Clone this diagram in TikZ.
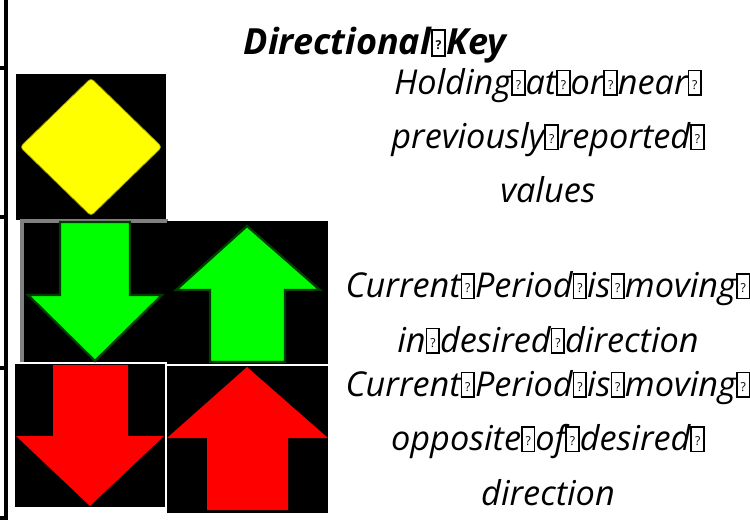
\documentclass[tikz,border=0pt]{standalone}
\usepackage{fontspec}
\setmainfont{Open Sans}
\usepackage{tikz}
\usetikzlibrary{positioning}
\definecolor{keyyellow}{RGB}{255, 255, 0}
\definecolor{keygreen}{RGB}{0, 255, 0}
\definecolor{keydkgreen}{RGB}{0, 60, 0}
\definecolor{keyred}{RGB}{255, 0, 0}
\definecolor{keygray}{RGB}{128, 128, 128}

% empty-glyph box printed where a space should be
\newcommand{\nog}{{\setlength{\fboxsep}{0pt}\setlength{\fboxrule}{0.05em}%
  \fbox{\makebox[0.32em][c]{\rule{0pt}{0.66em}%
  \raisebox{0.14em}{\fontsize{7}{7}\selectfont\upshape ?}}}}}

\begin{document}
\begin{tikzpicture}[
    x=0.02cm, y=-0.02cm,
    tile/.style={fill=black},
    grnarrow/.style={fill=keygreen, draw=keydkgreen, line width=1.3pt,
                     line join=miter},
    redarrow/.style={fill=keyred},
    keytitle/.style={anchor=base, font=\fontsize{20.5}{24}\selectfont\bfseries\itshape},
    keytext/.style={anchor=base, align=center,
                    font=\fontsize{19.5}{31}\selectfont\itshape},
    rule/.style={line width=2.2pt},
  ]
    \useasboundingbox (0,0) rectangle (750,520);

    % table border on the left
    \draw[rule] (6,0) -- (6,520);
    \foreach \yy in {68, 217, 368, 518}
      \draw[rule] (0,\yy) -- (7,\yy);

    % holding: yellow diamond
    \fill[tile] (16,74) rectangle (166,220);
    \draw[fill=keyyellow, draw=keyyellow!55!black, rounded corners=2pt]
      (91,78) -- (162,147) -- (91,216) -- (20,147) -- cycle;

    % desired direction: green arrows
    \fill[tile] (24,222) rectangle (168,362);
    \draw[keygray, line width=2pt] (22,362) -- (22,221) -- (168,221);
    \draw[grnarrow] (60,222) -- (130,222) -- (130,295) -- (162,295)
      -- (95,361) -- (28,295) -- (60,295) -- cycle;
    \fill[tile] (167,221) rectangle (328,364);
    \draw[grnarrow] (247,226) -- (320,290) -- (285,290) -- (285,362)
      -- (210,362) -- (210,290) -- (176,290) -- cycle;

    % opposite direction: red arrows
    \fill[tile] (15,364) rectangle (165,507);
    \fill[redarrow] (53,365) -- (128,365) -- (128,436) -- (164,436)
      -- (90,506) -- (16,436) -- (53,436) -- cycle;
    \fill[tile] (167,366) rectangle (328,513);
    \fill[redarrow] (247,367) -- (328,438) -- (288,438) -- (288,510)
      -- (207,510) -- (207,438) -- (167,438) -- cycle;

    % headings and explanations (base = last line)
    \node[keytitle] (title) at (375,55) {Directional\nog Key};
    \node[keytext] (hold) at (548,203)
      {Holding\nog at\nog or\nog near\nog\\previously\nog reported\nog\\values};
    \node[keytext] (good) at (548,352)
      {Current\nog Period\nog is\nog moving\nog\\in\nog desired\nog direction};
    \node[keytext] (bad) at (548,505)
      {Current\nog Period\nog is\nog moving\nog\\opposite\nog of\nog desired\nog\\direction};
\end{tikzpicture}
\end{document}
